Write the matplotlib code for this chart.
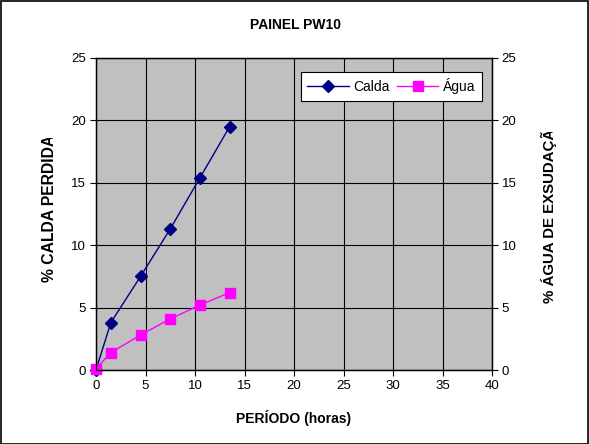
import matplotlib
matplotlib.use("Agg")
import matplotlib.pyplot as plt
from matplotlib.patches import Rectangle
from matplotlib.transforms import Bbox

plt.rcParams['font.family'] = ['Liberation Sans', 'DejaVu Sans']

# Data
periodo_h = [0, 1.5, 4.5, 7.5, 10.5, 13.5]
calda = [0, 3.8, 7.5, 11.3, 15.4, 19.5]
agua = [0.1, 1.4, 2.8, 4.1, 5.2, 6.2]
x_ticks = [0, 5, 10, 15, 20, 25, 30, 35, 40]
y_ticks = [0, 5, 10, 15, 20, 25]

W, H = 589, 444
fig = plt.figure(figsize=(W / 100, H / 100), dpi=100)
fig.patch.set_facecolor('white')

ax = fig.add_axes([96 / W, (H - 370) / H, (492 - 96) / W, (370 - 58) / H])
ax.set_facecolor('#C0C0C0')
ax.set_xlim(0, 40)
ax.set_ylim(0, 25)
ax.set_xticks(x_ticks)
ax.set_yticks(y_ticks)
ax.grid(True, color='black', linewidth=0.8)
ax.set_axisbelow(True)
for s in ax.spines.values():
    s.set_color('black')
    s.set_linewidth(0.9)
ax.tick_params(direction='out', length=4, width=0.8, labelsize=9.5, pad=3)

ax.plot(periodo_h, calda, color='#000080', marker='D', markersize=6,
        linewidth=1.0, label='Calda', clip_on=False, zorder=3)
ax.plot(periodo_h, agua, color='#FF00FF', marker='s', markersize=6.5,
        linewidth=1.0, label='Água', clip_on=False, zorder=3)

ax2 = ax.twinx()
ax2.set_ylim(0, 25)
ax2.set_yticks(y_ticks)
ax2.tick_params(direction='out', length=4, width=0.8, labelsize=9.5, pad=3)
for s in ax2.spines.values():
    s.set_color('black')
    s.set_linewidth(0.9)

leg = ax.legend(loc='upper right', bbox_to_anchor=(0.975, 0.955), ncol=2,
                fontsize=10, frameon=True, fancybox=False, edgecolor='black',
                framealpha=1.0, borderpad=0.45, handlelength=3.0,
                columnspacing=0.5, handletextpad=0.35, borderaxespad=0)
leg.get_frame().set_linewidth(0.8)

fig.text(295 / W, 1 - 25 / H, 'PAINEL PW10', ha='center', va='center',
         fontsize=10, fontweight='bold')
fig.text(294 / W, 1 - 418 / H, 'PERÍODO (horas)', ha='center', va='center',
         fontsize=10, fontweight='bold')

# Axis titles are cut off at the top edge of their text boxes
tl = fig.text(50 / W, 1 - 282 / H, '% CALDA PERDIDA', rotation=90,
              rotation_mode='anchor', ha='left', va='center',
              fontsize=11.3, fontweight='bold')
tl.set_clip_box(Bbox.from_extents(0, 0, W, H - 138))
tr = fig.text(549 / W, 1 - 303 / H, '% ÁGUA DE EXSUDAÇÃO', rotation=90,
              rotation_mode='anchor', ha='left', va='center',
              fontsize=10.8, fontweight='bold')
tr.set_clip_box(Bbox.from_extents(0, 0, W, H - 132))
for t in (tl, tr):
    t.set_clip_on(True)

fig.patches.append(Rectangle((0.5 / W, 0.5 / H), 1 - 1.5 / W, 1 - 1.5 / H,
                             transform=fig.transFigure, fill=False,
                             edgecolor='black', linewidth=1.2))

fig.savefig('out.png', dpi=100)
